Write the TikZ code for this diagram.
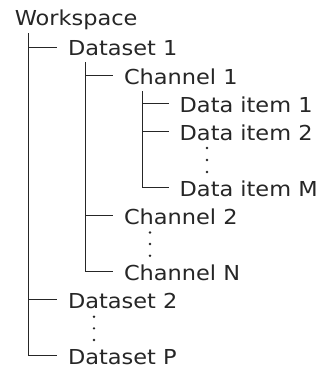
\documentclass[tikz,border=0pt]{standalone}
\usepackage{fontspec}
\setmainfont{DejaVu Sans}[FakeStretch=1.09]
\begin{document}
\begin{tikzpicture}[x=1pt,y=-1pt,
  every node/.style={font=\fontsize{20.6pt}{24pt}\selectfont, text=black!85},
  item/.style={anchor=west, inner xsep=10.5pt, inner ysep=0pt, text height=17.4pt, text depth=0pt},
  branch/.style={draw=black!85, line width=1pt},
  vdot/.style={circle, fill=black!85, inner sep=0pt, minimum size=2.6pt}]
\useasboundingbox (0,0) rectangle (320,372);
% root
\node[anchor=base west, inner sep=0pt] (ws) at (14.6,25.7) {Workspace};
% vertical tops
\coordinate (v0) at (28,33);
\coordinate (v1) at (85,62);
\coordinate (v2) at (142,91);
% level 1
\node[item] (ds1) at (57.3,47) {Dataset 1};
\node[item] (ds2) at (57.3,299.5) {Dataset 2};
\node[item] (dsP) at (57.3,355.5) {Dataset P};
% level 2
\node[item] (ch1) at (113.3,75.5) {Channel 1};
\node[item] (ch2) at (113.3,215.5) {Channel 2};
\node[item] (chN) at (113.3,271.5) {Channel N};
% level 3
\node[item] (it1) at (169,103.5) {Data item 1};
\node[item] (it2) at (169,131.5) {Data item 2};
\node[item] (itM) at (169,187.5) {Data item M};
% connectors
\draw[branch] (v0) |- (ds1.west);
\draw[branch] (v0) |- (ds2.west);
\draw[branch] (v0) |- (dsP.west);
\draw[branch] (v1) |- (ch1.west);
\draw[branch] (v1) |- (ch2.west);
\draw[branch] (v1) |- (chN.west);
\draw[branch] (v2) |- (it1.west);
\draw[branch] (v2) |- (it2.west);
\draw[branch] (v2) |- (itM.west);
% ellipsis dots
\node[vdot] (d1a) at (207,148) {};
\node[vdot] (d1b) at (207,160) {};
\node[vdot] (d1c) at (207,172) {};
\node[vdot] (d2a) at (150,232.5) {};
\node[vdot] (d2b) at (150,244) {};
\node[vdot] (d2c) at (150,255.7) {};
\node[vdot] (d3a) at (94,316.7) {};
\node[vdot] (d3b) at (94,328.3) {};
\node[vdot] (d3c) at (94,340) {};
\end{tikzpicture}
\end{document}
